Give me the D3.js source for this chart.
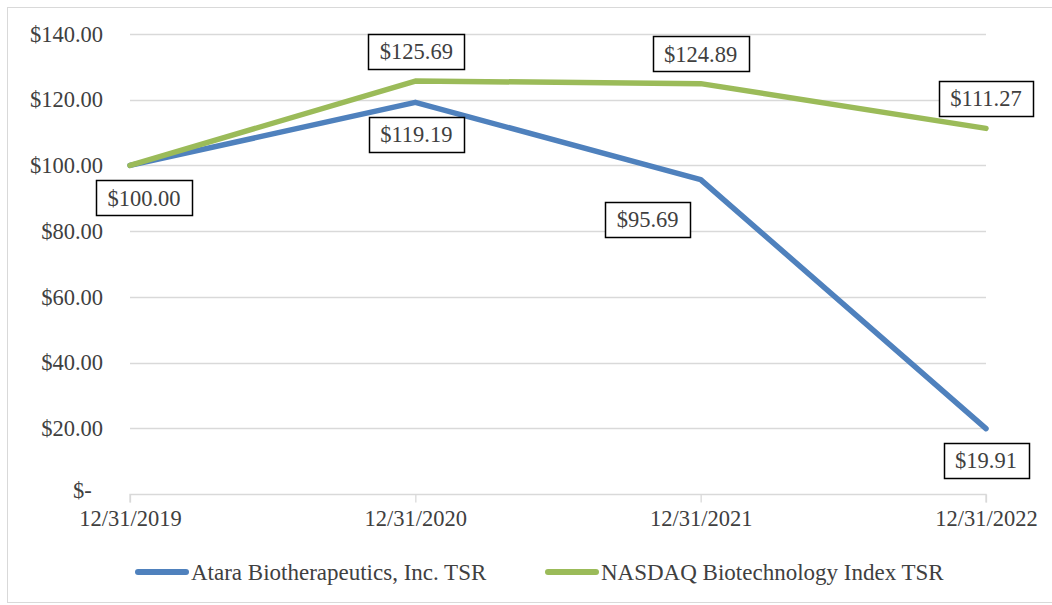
<!DOCTYPE html>
<html>
<head>
<meta charset="utf-8">
<script src="https://cdn.jsdelivr.net/npm/d3@7"></script>
<style>
  html, body { margin: 0; padding: 0; background: #fff; }
  svg { display: block; }
  svg text { font-family: "Liberation Serif", "Times New Roman", Times, serif; fill: #404040; }
</style>
</head>
<body>
<svg id="chart" width="1052" height="605"></svg>
<script>
const categories = ["12/31/2019", "12/31/2020", "12/31/2021", "12/31/2022"];
const ataraValues = [100.00, 119.19, 95.69, 19.91];
const nasdaqValues = [100.00, 125.69, 124.89, 111.27];
const seriesNames = ["Atara Biotherapeutics, Inc. TSR", "NASDAQ Biotechnology Index TSR"];
const yTicks = [0, 20, 40, 60, 80, 100, 120, 140];

const svg = d3.select("#chart");
const W = 1052, H = 605;
const plot = { left: 130, right: 986, top: 34, bottom: 494 };
const FONT = '"Liberation Serif", "Times New Roman", Times, serif';
const FS = 22.5;

// outer frame
svg.append("rect").attr("x", 7.5).attr("y", 7.5).attr("width", W + 10).attr("height", 595)
  .attr("fill", "none").attr("stroke", "#d9d9d9").attr("stroke-width", 1);

const x = d3.scalePoint().domain(categories).range([plot.left, plot.right]);
const y = d3.scaleLinear().domain([0, 140]).range([plot.bottom, plot.top]);

// gridlines
svg.append("g").selectAll("line").data(yTicks.filter(d => d > 0)).join("line")
  .attr("x1", plot.left).attr("x2", plot.right)
  .attr("y1", d => Math.round(y(d)) + 0.5).attr("y2", d => Math.round(y(d)) + 0.5)
  .attr("stroke", "#d9d9d9").attr("stroke-width", 1.3);

// y axis labels
const yAxis = d3.axisLeft(y).tickValues(yTicks).tickSize(0).tickPadding(27)
  .tickFormat(d => d === 0 ? "$-\u2002" : "$" + d.toFixed(2));
const gy = svg.append("g").attr("transform", `translate(${plot.left},0)`).call(yAxis)
  .attr("font-family", FONT);
gy.select(".domain").remove();
gy.selectAll("text").attr("font-size", FS).attr("fill", "#404040").attr("font-family", FONT);
gy.selectAll(".tick").filter(d => d === 0).select("text").attr("dy", "0.15em");

// x axis
const xAxis = d3.axisBottom(x).tickSize(8).tickPadding(8);
const gx = svg.append("g").attr("transform", `translate(0,${plot.bottom + 0.5})`).call(xAxis)
  .attr("font-family", FONT);
gx.select(".domain").attr("stroke", "#d9d9d9").attr("stroke-width", 1.3)
  .attr("d", `M${plot.left},8V0H${plot.right}V8`);
gx.selectAll(".tick line").attr("stroke", "#d9d9d9").attr("stroke-width", 1.3);
gx.selectAll("text").attr("font-size", FS).attr("fill", "#404040").attr("font-family", FONT);

// lines
const line = d3.line().x((d, i) => x(categories[i])).y(d => y(d));
const series = [
  { name: seriesNames[0], values: ataraValues, color: "#4f81bd" },
  { name: seriesNames[1], values: nasdaqValues, color: "#9bbb59" }
];
svg.append("g").selectAll("path").data(series).join("path")
  .attr("d", d => line(d.values)).attr("fill", "none")
  .attr("stroke", d => d.color).attr("stroke-width", 5.5)
  .attr("stroke-linejoin", "round").attr("stroke-linecap", "round");

// data labels (offsets in px relative to point)
const labelOffsets = {
  0: [[14, 32.5], [1, 32], [-53, 40], [0, 32]],
  1: [[14, 32.5], [1, -29.5], [0, -30], [0, -30]]
};
const labels = [];
series.forEach((s, si) => {
  s.values.forEach((v, i) => {
    if (si === 1 && i === 0) return; // single label at shared start point
    const off = labelOffsets[si][i];
    labels.push({ text: "$" + v.toFixed(2), cx: x(categories[i]) + off[0], cy: y(v) + off[1] });
  });
});
const lg = svg.append("g").selectAll("g").data(labels).join("g");
lg.append("text").attr("x", d => d.cx).attr("y", d => d.cy).attr("dy", "0.35em")
  .attr("text-anchor", "middle").attr("font-size", FS).attr("font-family", FONT).text(d => d.text)
  .each(function(d) { const b = this.getBBox(); d.w = b.width; });
lg.insert("rect", "text")
  .attr("x", d => Math.round(d.cx - d.w / 2 - 11.5) + 0.5)
  .attr("y", d => Math.round(d.cy - 17.5) + 0.5)
  .attr("width", d => Math.round(d.w + 23)).attr("height", 35)
  .attr("fill", "#fff").attr("stroke", "#000").attr("stroke-width", 1.5);

// legend
const legendY = 572;
const legendItems = [
  { name: seriesNames[0], color: "#4f81bd", x0: 138 },
  { name: seriesNames[1], color: "#9bbb59", x0: 548 }
];
const leg = svg.append("g").selectAll("g").data(legendItems).join("g");
leg.append("line").attr("x1", d => d.x0).attr("x2", d => d.x0 + 48)
  .attr("y1", legendY).attr("y2", legendY)
  .attr("stroke", d => d.color).attr("stroke-width", 6).attr("stroke-linecap", "round");
leg.append("text").attr("x", d => d.x0 + 53).attr("y", legendY).attr("dy", "0.35em")
  .attr("font-size", 23).attr("font-family", FONT).text(d => d.name);
</script>
</body>
</html>
